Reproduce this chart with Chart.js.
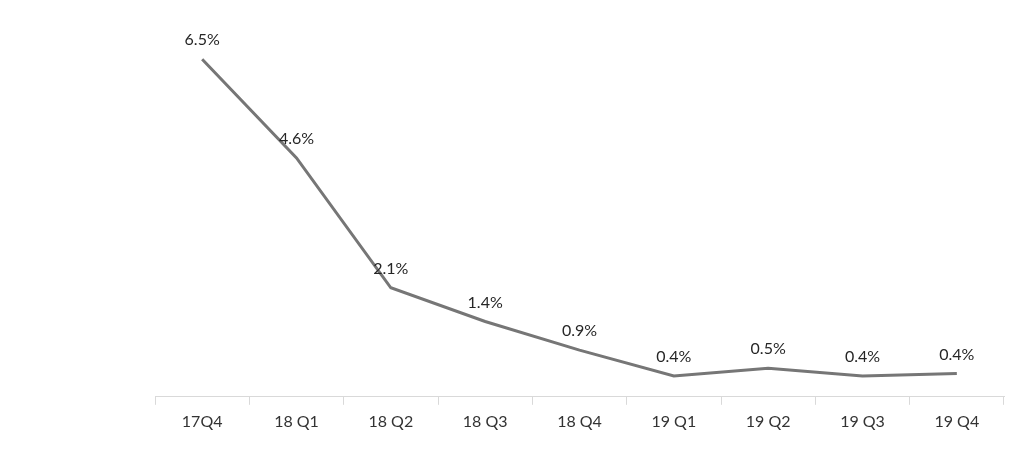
<!DOCTYPE html>
<html>
<head>
<meta charset="utf-8">
<script src="https://cdn.jsdelivr.net/npm/chart.js@4"></script>
<style>
  body { margin: 0; background: #fff; }
  #wrap { width: 1011px; height: 461px; position: relative; }
</style>
</head>
<body>
<div id="wrap"><canvas id="myChart"></canvas></div>
<script>
const quarters = ['17Q4', '18 Q1', '18 Q2', '18 Q3', '18 Q4', '19 Q1', '19 Q2', '19 Q3', '19 Q4'];
const rates = [6.5, 4.6, 2.1, 1.45, 0.9, 0.4, 0.55, 0.4, 0.45];
const rateLabels = ['6.5%', '4.6%', '2.1%', '1.4%', '0.9%', '0.4%', '0.5%', '0.4%', '0.4%'];

// draws the value labels above each point
const valueLabels = {
    id: 'valueLabels',
    afterDatasetsDraw(chart) {
        const ctx = chart.ctx;
        const meta = chart.getDatasetMeta(0);
        ctx.save();
        ctx.font = '16px Lato, "Open Sans", sans-serif';
        ctx.fillStyle = '#262626';
        ctx.textAlign = 'center';
        ctx.textBaseline = 'middle';
        meta.data.forEach(function(pt, i) {
            ctx.fillText(rateLabels[i], pt.x, pt.y - 19);
        });
        ctx.restore();
    }
};

const data = {
    labels: quarters,
    datasets: [
        {
            data: rates,
            borderColor: '#767676',
            borderWidth: 3,
            pointRadius: 0,
            tension: 0,
            fill: false
        }
    ]
};

const config = {
    type: 'line',
    data: data,
    plugins: [valueLabels],
    options: {
        responsive: true,
        maintainAspectRatio: false,
        animation: false,
        layout: {
            padding: { left: 155, right: 7, top: 10, bottom: 23 }
        },
        plugins: {
            legend: { display: false },
            tooltip: { enabled: false }
        },
        scales: {
            x: {
                offset: true,
                grid: {
                    offset: true,
                    drawOnChartArea: false,
                    drawTicks: true,
                    tickLength: 8,
                    color: '#d9d9d9'
                },
                border: { display: true, color: '#d9d9d9', width: 1 },
                ticks: {
                    color: '#333333',
                    padding: 7,
                    font: { size: 16, family: 'Lato, "Open Sans", sans-serif' }
                }
            },
            y: {
                display: false,
                min: 0,
                max: 7.45
            }
        }
    }
};

document.addEventListener('DOMContentLoaded', function() {
    new Chart(document.getElementById('myChart'), config);
});
</script>
</body>
</html>
